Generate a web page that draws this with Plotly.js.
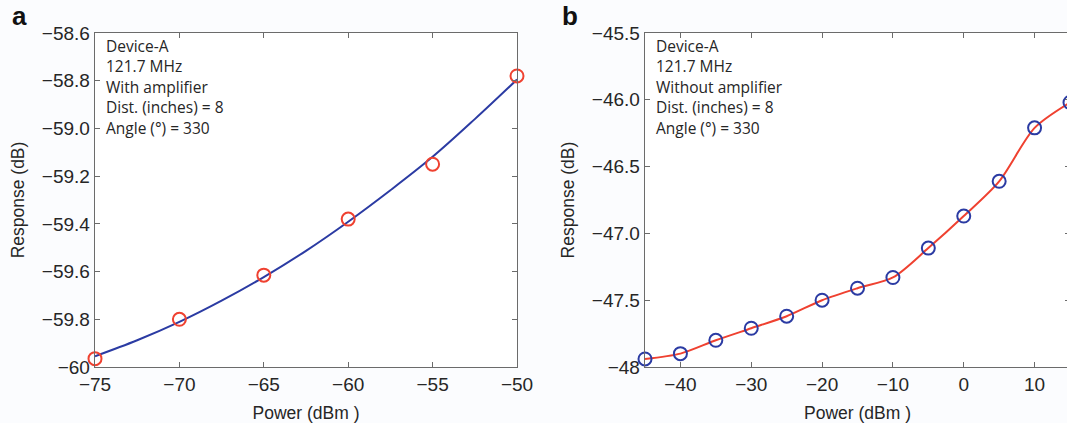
<!DOCTYPE html>
<html>
<head>
<meta charset="utf-8">
<script src="https://cdn.plot.ly/plotly-3.0.1.min.js"></script>
<style>
  html, body { margin: 0; padding: 0; background: #fbfcfe; overflow: hidden; }
  #chart { width: 1078px; height: 423px; }
</style>
</head>
<body>
<div id="chart"></div>
<script>
// Panel a: response vs input power, with amplifier
const powerA = [-75, -70, -65, -60, -55, -50];
const responseA = [-59.965, -59.80, -59.615, -59.38, -59.15, -58.78];
// fitted trend for panel a
const fitPowerA = [-75, -72.5, -70, -67.5, -65, -62.5, -60, -57.5, -55, -52.5, -50];
const fitResponseA = [-59.955, -59.888, -59.811, -59.722, -59.623, -59.513, -59.391, -59.259, -59.119, -58.961, -58.795];

// Panel b: response vs input power, without amplifier
const powerB = [-45, -40, -35, -30, -25, -20, -15, -10, -5, 0, 5, 10, 15];
const responseB = [-47.94, -47.90, -47.80, -47.71, -47.62, -47.50, -47.41, -47.33, -47.11, -46.87, -46.61, -46.21, -46.02];

// tick labels
const xTicksA = [-75, -70, -65, -60, -55, -50];
const xTickTextA = ['−75', '−70', '−65', '−60', '−55', '−50'];
const yTicksA = [-60, -59.8, -59.6, -59.4, -59.2, -59.0, -58.8, -58.6];
const yTickTextA = ['−60', '−59.8', '−59.6', '−59.4', '−59.2', '−59.0', '−58.8', '−58.6'];
const xTicksB = [-40, -30, -20, -10, 0, 10];
const xTickTextB = ['−40', '−30', '−20', '−10', '0', '10'];
const yTicksB = [-48, -47.5, -47, -46.5, -46, -45.5];
const yTickTextB = ['−48', '−47.5', '−47.0', '−46.5', '−46.0', '−45.5'];

// info box lines
const infoA = ['Device-A', '121.7 MHz', 'With amplifier', 'Dist. (inches) = 8', 'Angle (°) = 330'];
const infoB = ['Device-A', '121.7 MHz', 'Without amplifier', 'Dist. (inches) = 8', 'Angle (°) = 330'];

const RED = '#ef4130';
const BLUE = '#2b3ba3';
const AXIS = '#6b6b6b';
const W = 1078, H = 423, ML = 95, MR = 2, MT = 33, MB = 56;
const PW = W - ML - MR, PH = H - MT - MB;
const px = (x) => (x - ML) / PW;
const py = (y) => 1 - (y - MT) / PH;

const TICKFONT = { family: 'Liberation Sans, Arial, sans-serif', size: 19, color: '#262626' };
const TITLEFONT = { family: 'Liberation Sans, Arial, sans-serif', size: 17.5, color: '#262626' };
const INFOFONT = { family: 'Open Sans, sans-serif', size: 15.5, color: '#262626' };

const traces = [
  { x: fitPowerA, y: fitResponseA, xaxis: 'x', yaxis: 'y', mode: 'lines',
    line: { color: BLUE, width: 2, shape: 'spline', smoothing: 1 }, hoverinfo: 'skip' },
  { x: powerA, y: responseA, xaxis: 'x', yaxis: 'y', mode: 'markers',
    marker: { symbol: 'circle-open', size: 13, color: RED, line: { width: 2, color: RED } }, cliponaxis: false },
  { x: powerB, y: responseB, xaxis: 'x2', yaxis: 'y2', mode: 'lines',
    line: { color: RED, width: 2, shape: 'spline', smoothing: 0.8 }, hoverinfo: 'skip' },
  { x: powerB, y: responseB, xaxis: 'x2', yaxis: 'y2', mode: 'markers',
    marker: { symbol: 'circle-open', size: 13, color: BLUE, line: { width: 2, color: BLUE } }, cliponaxis: false }
];

function axisBase() {
  return {
    showgrid: false, zeroline: false, showline: true, linecolor: AXIS, linewidth: 1.3,
    mirror: 'ticks', ticks: 'inside', ticklen: 5, tickcolor: AXIS, tickwidth: 1,
    tickfont: TICKFONT, tickmode: 'array'
  };
}

const annotations = [];
function addInfo(lines, xPix) {
  lines.forEach((t, i) => {
    annotations.push({ xref: 'paper', yref: 'paper', x: px(xPix), y: py(46 + i * 20.4),
      xanchor: 'left', yanchor: 'middle', text: t, showarrow: false, font: INFOFONT, align: 'left' });
  });
}
addInfo(infoA, 104);
addInfo(infoB, 654);
const LETTERFONT = { family: 'Liberation Sans, Arial, sans-serif', size: 26, color: '#111' };
annotations.push({ xref: 'paper', yref: 'paper', x: px(10), y: py(16), xanchor: 'left', yanchor: 'middle',
  text: '<b>a</b>', showarrow: false, font: LETTERFONT });
annotations.push({ xref: 'paper', yref: 'paper', x: px(560), y: py(16), xanchor: 'left', yanchor: 'middle',
  text: '<b>b</b>', showarrow: false, font: LETTERFONT });

const layout = {
  width: W, height: H,
  margin: { l: ML, r: MR, t: MT, b: MB },
  paper_bgcolor: '#fbfcfe', plot_bgcolor: '#ffffff',
  showlegend: false,
  xaxis: Object.assign(axisBase(), { domain: [px(95), px(517)], range: [-75, -50], tickvals: xTicksA, ticktext: xTickTextA,
    anchor: 'y', title: { text: 'Power (dBm )', font: TITLEFONT, standoff: 12 } }),
  yaxis: Object.assign(axisBase(), { domain: [0, 1], range: [-60, -58.6], tickvals: yTicksA, ticktext: yTickTextA,
    anchor: 'x', title: { text: 'Response (dB)', font: TITLEFONT, standoff: 12 } }),
  xaxis2: Object.assign(axisBase(), { domain: [px(645), px(1070)], range: [-45, 15], tickvals: xTicksB, ticktext: xTickTextB,
    anchor: 'y2', title: { text: 'Power (dBm )', font: TITLEFONT, standoff: 12 } }),
  yaxis2: Object.assign(axisBase(), { domain: [0, 1], range: [-48, -45.5], tickvals: yTicksB, ticktext: yTickTextB,
    anchor: 'x2', title: { text: 'Response (dB)', font: TITLEFONT, standoff: 12 } }),
  annotations: annotations
};

Plotly.newPlot('chart', traces, layout, { displayModeBar: false, staticPlot: true });
</script>
</body>
</html>
